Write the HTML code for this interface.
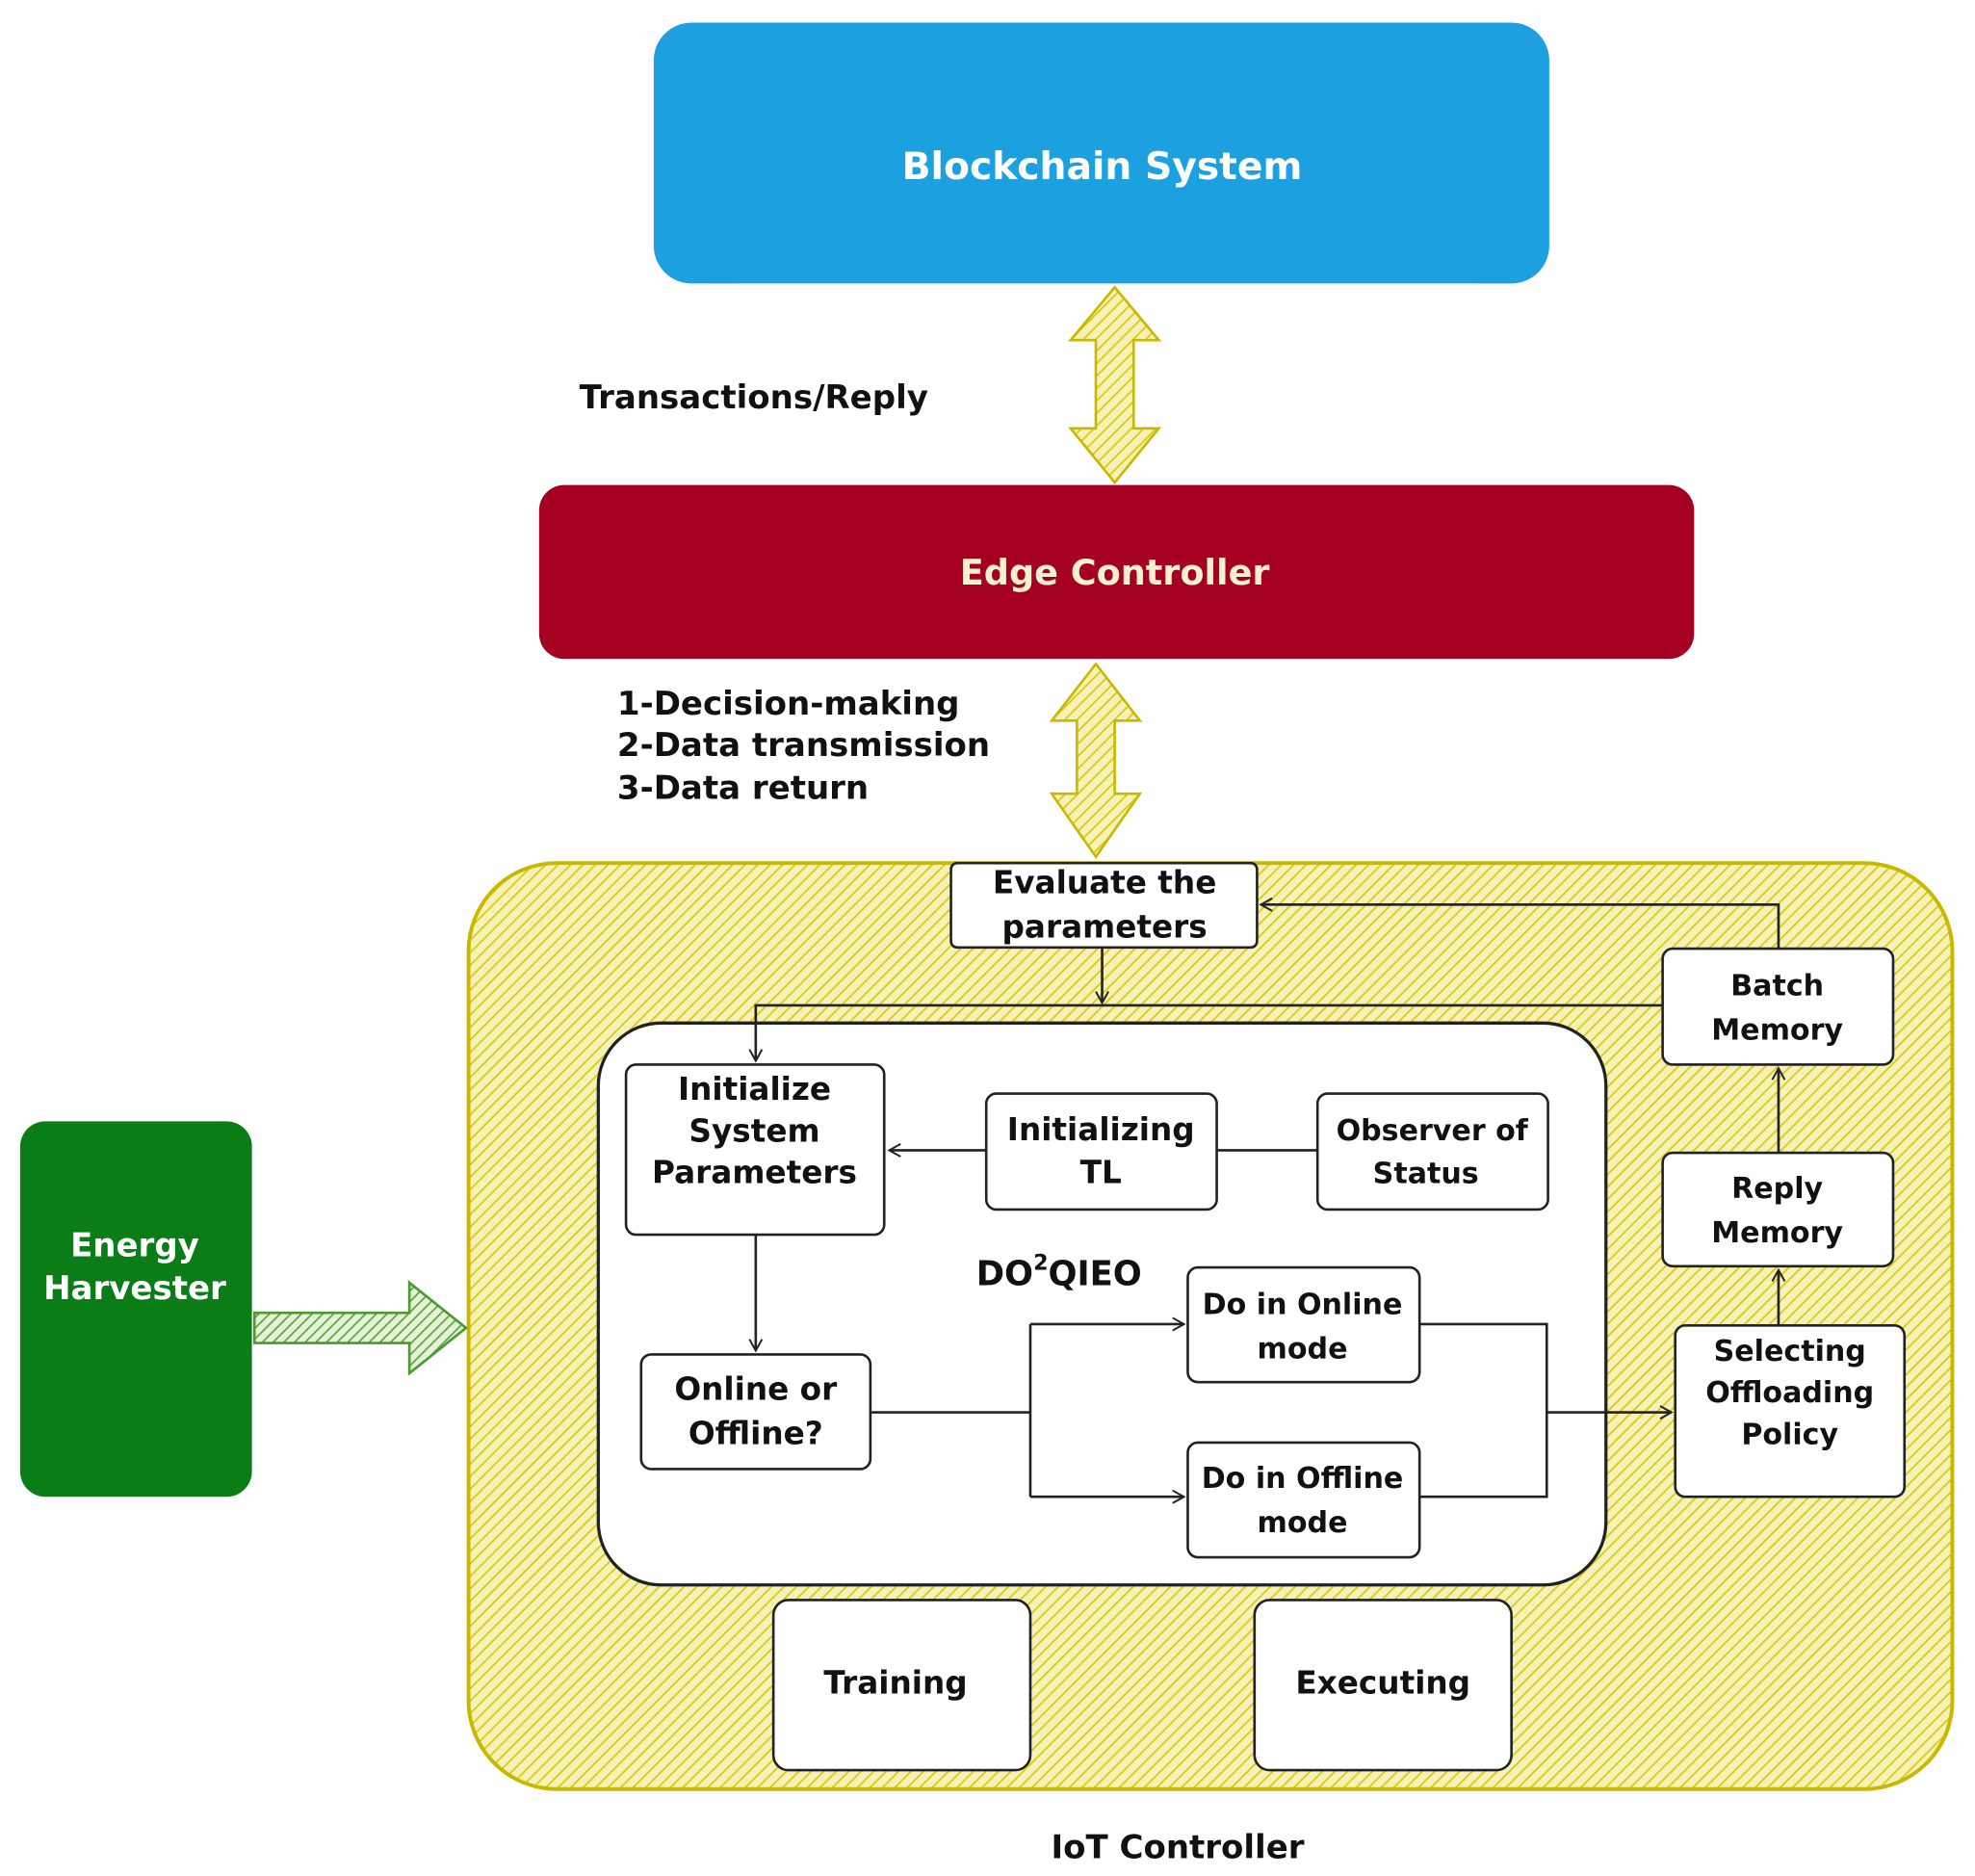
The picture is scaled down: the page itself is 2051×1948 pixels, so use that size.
<!DOCTYPE html>
<html><head><meta charset="utf-8"><style>
html,body{margin:0;padding:0;background:#fff;}
svg{display:block;}
text{font-family:"DejaVu Sans","Liberation Sans",sans-serif;font-weight:bold;}
</style></head><body>
<svg width="2051" height="1948" viewBox="0 0 1568 1489" preserveAspectRatio="none" xmlns="http://www.w3.org/2000/svg">
<defs>
<pattern id="hy" patternUnits="userSpaceOnUse" width="7" height="7" patternTransform="rotate(45)">
<rect width="7" height="7" fill="#f6f1b8"/><line x1="0" y1="0" x2="0" y2="7" stroke="#d8c800" stroke-width="2.5"/></pattern>
<pattern id="hg" patternUnits="userSpaceOnUse" width="6" height="6" patternTransform="rotate(45)">
<rect width="6" height="6" fill="#e4f2d8"/><line x1="0" y1="0" x2="0" y2="6" stroke="#5aa03a" stroke-width="2.5"/></pattern>
<marker id="ar" markerWidth="12" markerHeight="12" refX="10" refY="6" orient="auto" markerUnits="userSpaceOnUse">
<path d="M1,1 L10,6 L1,11" fill="none" stroke="#222" stroke-width="1.5"/></marker>
</defs>

<rect x="519" y="18" width="711" height="207" rx="30" fill="#1ca0e0"/>
<text x="875" y="142" font-size="30" fill="#fff" text-anchor="middle">Blockchain System</text>

<path d="M885,228 L920,270 L900,270 L900,340 L920,340 L885,383 L850,340 L870,340 L870,270 L850,270 Z" fill="url(#hy)" stroke="#c9b800" stroke-width="2"/>
<text x="460" y="324" font-size="26" fill="#111">Transactions/Reply</text>

<rect x="428" y="385" width="917" height="138" rx="20" fill="#a50021"/>
<text x="885" y="464" font-size="28" fill="#f5f0d0" text-anchor="middle">Edge Controller</text>

<path d="M870,527 L905,572 L885,572 L885,630 L905,630 L870,680 L835,630 L855,630 L855,572 L835,572 Z" fill="url(#hy)" stroke="#c9b800" stroke-width="2"/>
<text font-size="26" fill="#111"><tspan x="490" y="567">1-Decision-making</tspan><tspan x="490" y="600">2-Data transmission</tspan><tspan x="490" y="634">3-Data return</tspan></text>

<rect x="372" y="685" width="1178" height="735" rx="70" fill="url(#hy)" stroke="#c9b800" stroke-width="3"/>
<text x="935" y="1475" font-size="26" fill="#111" text-anchor="middle">IoT Controller</text>

<rect x="16" y="890" width="184" height="298" rx="20" fill="#0a7d17"/>
<text font-size="26" fill="#fff" text-anchor="middle"><tspan x="107" y="997">Energy</tspan><tspan x="107" y="1031">Harvester</tspan></text>
<path d="M202,1042 L325,1042 L325,1018 L370,1054 L325,1090 L325,1066 L202,1066 Z" fill="url(#hg)" stroke="#4a9a30" stroke-width="2"/>

<rect x="755" y="685" width="243" height="67" rx="5" fill="#fff" stroke="#222" stroke-width="2"/>
<text font-size="25" fill="#111" text-anchor="middle"><tspan x="877" y="709">Evaluate the</tspan><tspan x="877" y="744">parameters</tspan></text>

<rect x="475" y="812" width="800" height="446" rx="50" fill="#fff" stroke="#222" stroke-width="2.5"/>

<g fill="#fff" stroke="#222" stroke-width="2">
<rect x="497" y="845" width="205" height="135" rx="8"/>
<rect x="783" y="868" width="183" height="92" rx="8"/>
<rect x="1046" y="868" width="183" height="92" rx="8"/>
<rect x="509" y="1075" width="182" height="91" rx="8"/>
<rect x="943" y="1006" width="184" height="91" rx="8"/>
<rect x="943" y="1145" width="184" height="91" rx="8"/>
<rect x="1320" y="753" width="183" height="92" rx="8"/>
<rect x="1320" y="915" width="183" height="90" rx="8"/>
<rect x="1330" y="1052" width="182" height="136" rx="8"/>
<rect x="614" y="1270" width="204" height="135" rx="12"/>
<rect x="996" y="1270" width="204" height="135" rx="12"/>
</g>

<g font-size="25" fill="#111" text-anchor="middle">
<text><tspan x="599" y="873">Initialize</tspan><tspan x="599" y="906">System</tspan><tspan x="599" y="939">Parameters</tspan></text>
<text><tspan x="874" y="905">Initializing</tspan><tspan x="874" y="939">TL</tspan></text>
<text font-size="23"><tspan x="1137" y="905">Observer of</tspan><tspan x="1132" y="939">Status</tspan></text>
<text><tspan x="600" y="1111">Online or</tspan><tspan x="600" y="1146">Offline?</tspan></text>
<text font-size="23"><tspan x="1034" y="1043">Do in Online</tspan><tspan x="1034" y="1078">mode</tspan></text>
<text font-size="23"><tspan x="1034" y="1181">Do in Offline</tspan><tspan x="1034" y="1216">mode</tspan></text>
<text font-size="23"><tspan x="1411" y="790">Batch</tspan><tspan x="1411" y="825">Memory</tspan></text>
<text font-size="23"><tspan x="1411" y="951">Reply</tspan><tspan x="1411" y="986">Memory</tspan></text>
<text font-size="23"><tspan x="1421" y="1080">Selecting</tspan><tspan x="1421" y="1113">Offloading</tspan><tspan x="1421" y="1146">Policy</tspan></text>
<text x="711" y="1344">Training</text>
<text x="1098" y="1344">Executing</text>
</g>
<text x="775" y="1020" font-size="27" fill="#111">DO<tspan font-size="17" dy="-12">2</tspan><tspan dy="12">QIEO</tspan></text>

<g fill="none" stroke="#222" stroke-width="2">
<path d="M875,752 L875,796" marker-end="url(#ar)"/>
<path d="M1320,798 L600,798 L600,842" marker-end="url(#ar)"/>
<path d="M1412,753 L1412,718 L1001,718" marker-end="url(#ar)"/>
<path d="M1412,915 L1412,848" marker-end="url(#ar)"/>
<path d="M1412,1052 L1412,1008" marker-end="url(#ar)"/>
<path d="M783,913 L706,913" marker-end="url(#ar)"/>
<path d="M966,913 L1046,913"/>
<path d="M600,980 L600,1072" marker-end="url(#ar)"/>
<path d="M691,1121 L818,1121"/>
<path d="M818,1051 L818,1188"/>
<path d="M818,1051 L940,1051" marker-end="url(#ar)"/>
<path d="M818,1188 L940,1188" marker-end="url(#ar)"/>
<path d="M1127,1051 L1228,1051 L1228,1188 L1127,1188"/>
<path d="M1228,1121 L1327,1121" marker-end="url(#ar)"/>
</g>
</svg>
</body></html>
